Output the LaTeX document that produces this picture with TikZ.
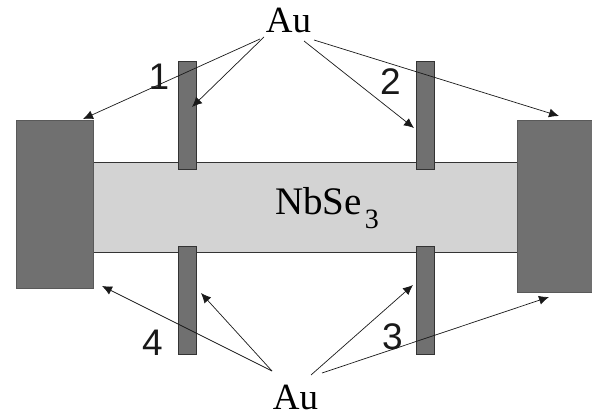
\documentclass[tikz,border=0pt]{standalone}
\usepackage{fontspec}
\usepackage{xcolor}
\usetikzlibrary{arrows.meta}
\setmainfont{Liberation Serif}
\newfontfamily\digitfont{Liberation Sans}
\definecolor{goldgray}{RGB}{112, 112, 112}
\definecolor{stripgray}{RGB}{211, 211, 211}
\tikzset{
  stripbox/.style={draw=black!80, fill=stripgray, line width=0.8pt, inner sep=0pt, outer sep=0pt},
  padbox/.style={draw=black!65, fill=goldgray, line width=0.8pt, inner sep=0pt, outer sep=0pt},
  tabbox/.style={draw=black!80, fill=goldgray, line width=0.8pt, inner sep=0pt, outer sep=0pt, minimum width=18pt, minimum height=108pt},
  pointer/.style={-{Latex[length=10pt,width=9pt]}, line width=0.7pt, black!90},
  goldlabel/.style={inner sep=0pt, anchor=base, font=\fontsize{37}{37}\selectfont},
  tablabel/.style={inner sep=0pt, font=\digitfont\fontsize{37}{37}\selectfont, black!90},
}

\begin{document}
\begin{tikzpicture}[x=1pt, y=-1pt]
\useasboundingbox (0,0) rectangle (592,414);
% sample and contacts
\node[stripbox, minimum width=430pt, minimum height=90pt] (strip) at (305,207) {};
\node[padbox, minimum width=77pt, minimum height=168pt] (padleft) at (54.5,204) {};
\node[padbox, minimum width=76pt, minimum height=172pt] (padright) at (555,206) {};
\node[tabbox] (tabone) at (187,115) {};
\node[tabbox] (tabtwo) at (425.5,115) {};
\node[tabbox] (tabthree) at (425.5,300.5) {};
\node[tabbox] (tabfour) at (187,300.5) {};
% labels
\node[goldlabel] (autop) at (288.5,33) {Au};
\node[goldlabel] (aubottom) at (295.5,409) {Au};
\node[goldlabel, font=\fontsize{39}{39}\selectfont] (nbse) at (327,215) {NbSe\kern3pt\raisebox{-14pt}{\fontsize{28}{28}\selectfont 3}};
\node[tablabel] (labelone) at (159,76.5) {1};
\node[tablabel] (labeltwo) at (390.5,81.5) {2};
\node[tablabel] (labelthree) at (392.5,337) {3};
\node[tablabel] (labelfour) at (152.5,343) {4};
% arrow ends
\coordinate (topa) at (260,39);
\coordinate (topb) at (264,37);
\coordinate (topc) at (304,41);
\coordinate (topd) at (314,40);
\coordinate (bota) at (272,371);
\coordinate (botc) at (311,375);
\coordinate (botd) at (322,373);
\coordinate (tipa) at (83,119);
\coordinate (tipb) at (192,107);
\coordinate (tipc) at (414,128);
\coordinate (tipd) at (559,116);
\coordinate (tipe) at (102,286);
\coordinate (tipf) at (201,293);
\coordinate (tipg) at (413,285);
\coordinate (tiph) at (549,297);
\draw[pointer] (topa) -- (tipa);
\draw[pointer] (topb) -- (tipb);
\draw[pointer] (topc) -- (tipc);
\draw[pointer] (topd) -- (tipd);
\draw[pointer] (bota) -- (tipe);
\draw[pointer] (bota) -- (tipf);
\draw[pointer] (botc) -- (tipg);
\draw[pointer] (botd) -- (tiph);
\end{tikzpicture}
\end{document}
